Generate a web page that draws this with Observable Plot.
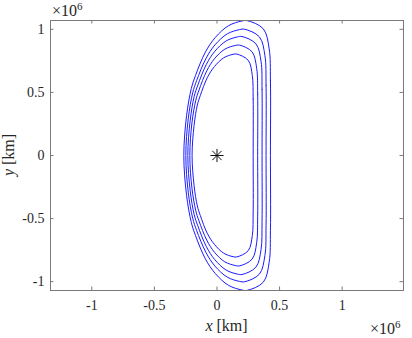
<!DOCTYPE html>
<html><head><meta charset="utf-8">
<script src="https://cdn.jsdelivr.net/npm/d3@7"></script>
<script src="https://cdn.jsdelivr.net/npm/@observablehq/plot@0.6"></script>
<style>
body{margin:0;background:#fff;} svg{display:block;}
</style>
</head><body><div id="chart"></div>
<script>
const xTicks = [-1, -0.5, 0, 0.5, 1];
const yTicks = [-1, -0.5, 0, 0.5, 1];
// orbit coordinates in units of 10^6 km
const orbit1X = [0.289, 0.289, 0.282, 0.249, 0.157, 0.128, 0.053, -0.021, -0.078, -0.133, -0.157, -0.183, -0.199, -0.183, -0.157, -0.133, -0.078, -0.021, 0.053, 0.128, 0.157, 0.249, 0.282, 0.289];
const orbit1Y = [0, 0.447, 0.635, 0.755, 0.804, 0.802, 0.774, 0.704, 0.616, 0.476, 0.400, 0.238, 0, -0.238, -0.400, -0.476, -0.616, -0.704, -0.774, -0.802, -0.804, -0.755, -0.635, -0.447];
const orbit2X = [0.325, 0.325, 0.317, 0.280, 0.179, 0.146, 0.063, -0.020, -0.082, -0.144, -0.170, -0.200, -0.217, -0.200, -0.170, -0.144, -0.082, -0.020, 0.063, 0.146, 0.179, 0.280, 0.317, 0.325];
const orbit2Y = [0, 0.487, 0.691, 0.822, 0.875, 0.872, 0.843, 0.767, 0.670, 0.518, 0.435, 0.259, 0, -0.259, -0.435, -0.518, -0.670, -0.767, -0.843, -0.872, -0.875, -0.822, -0.691, -0.487];
const orbit3X = [0.360, 0.360, 0.352, 0.311, 0.200, 0.164, 0.073, -0.017, -0.085, -0.153, -0.182, -0.214, -0.233, -0.214, -0.182, -0.153, -0.085, -0.017, 0.073, 0.164, 0.200, 0.311, 0.352, 0.360];
const orbit3Y = [0, 0.524, 0.745, 0.885, 0.943, 0.940, 0.908, 0.826, 0.722, 0.558, 0.469, 0.279, 0, -0.279, -0.469, -0.558, -0.722, -0.826, -0.908, -0.940, -0.943, -0.885, -0.745, -0.524];
const orbit4X = [0.392, 0.392, 0.383, 0.339, 0.219, 0.181, 0.082, -0.016, -0.089, -0.163, -0.194, -0.229, -0.249, -0.229, -0.194, -0.163, -0.089, -0.016, 0.082, 0.181, 0.219, 0.339, 0.383, 0.392];
const orbit4Y = [0, 0.557, 0.791, 0.940, 1.001, 0.998, 0.964, 0.877, 0.767, 0.593, 0.497, 0.296, 0, -0.296, -0.497, -0.593, -0.767, -0.877, -0.964, -0.998, -1.001, -0.940, -0.791, -0.557];
const orbit5X = [0.427, 0.427, 0.417, 0.370, 0.240, 0.199, 0.092, -0.013, -0.093, -0.172, -0.205, -0.243, -0.265, -0.243, -0.205, -0.172, -0.093, -0.013, 0.092, 0.199, 0.240, 0.370, 0.417, 0.427];
const orbit5Y = [0, 0.594, 0.845, 1.004, 1.069, 1.066, 1.029, 0.936, 0.819, 0.633, 0.531, 0.316, 0, -0.316, -0.531, -0.633, -0.819, -0.936, -1.029, -1.066, -1.069, -1.004, -0.845, -0.594];
const starX = [0];
const starY = [0];

const orbits = [[orbit1X, orbit1Y], [orbit2X, orbit2Y], [orbit3X, orbit3Y], [orbit4X, orbit4Y], [orbit5X, orbit5Y]];
const rows = orbits.flatMap(([xs, ys], k) => xs.map((x, i) => ({orbit: k, x, y: ys[i]})));
const star = starX.map((x, i) => ({x, y: starY[i]}));

const W = 412, H = 338, mL = 50, mT = 20, mR = 9, mB = 48;
const iW = W - mL - mR, iH = H - mT - mB, tk = 3.5;
const axisColor = "#7a7a7a";
const fmt = d => String(d);
const ff = "Liberation Serif";

const plot = Plot.plot({
  width: W, height: H,
  marginLeft: mL, marginTop: mT, marginRight: mR, marginBottom: mB,
  style: {fontFamily: ff, fontSize: "14px", color: "#262626", background: "#fff"},
  x: {domain: [-1.33, 1.49]},
  y: {domain: [-1.07, 1.07]},
  marks: [
    Plot.line(rows, {x: "x", y: "y", z: "orbit", stroke: "#1a1aff", strokeWidth: 1, curve: "catmull-rom-closed"}),
    Plot.dot(star, {x: "x", y: "y", symbol: "plus", r: 4.3, stroke: "#111", strokeWidth: 1}),
    Plot.dot(star, {x: "x", y: "y", symbol: "times", r: 4.3, stroke: "#111", strokeWidth: 1}),
    Plot.frame({stroke: axisColor}),
    Plot.tickX(xTicks, {x: d => d, insetTop: iH - tk, stroke: axisColor}),
    Plot.tickX(xTicks, {x: d => d, insetBottom: iH - tk, stroke: axisColor}),
    Plot.tickY(yTicks, {y: d => d, insetRight: iW - tk, stroke: axisColor}),
    Plot.tickY(yTicks, {y: d => d, insetLeft: iW - tk, stroke: axisColor}),
    Plot.axisX({ticks: xTicks, tickSize: 0, tickPadding: 10, tickFormat: fmt, label: null, fontSize: 14, fontFamily: ff}),
    Plot.axisY({ticks: yTicks, tickSize: 0, tickPadding: 6, tickFormat: fmt, label: null, fontSize: 14, fontFamily: ff})
  ]
});
document.getElementById("chart").appendChild(plot);

const svg = d3.select(plot);
const xl = svg.append("text").attr("x", mL + iW / 2).attr("y", 331).attr("text-anchor", "middle")
  .attr("font-family", ff).attr("font-size", 16).attr("fill", "#262626");
xl.append("tspan").attr("font-style", "italic").text("x");
xl.append("tspan").text(" [km]");
const yl = svg.append("text").attr("transform", `translate(14,${mT + iH / 2}) rotate(-90)`).attr("text-anchor", "middle")
  .attr("font-family", ff).attr("font-size", 16).attr("fill", "#262626");
yl.append("tspan").attr("font-style", "italic").text("y");
yl.append("tspan").text(" [km]");
function expo(x, y) {
  const t = svg.append("text").attr("x", x).attr("y", y).attr("text-anchor", "start")
    .attr("font-family", ff).attr("font-size", 16).attr("fill", "#262626");
  t.append("tspan").text("×10");
  t.append("tspan").attr("font-size", 11).attr("dy", -6).text("6");
}
expo(52, 16);
expo(370, 334);
</script>
</body></html>
